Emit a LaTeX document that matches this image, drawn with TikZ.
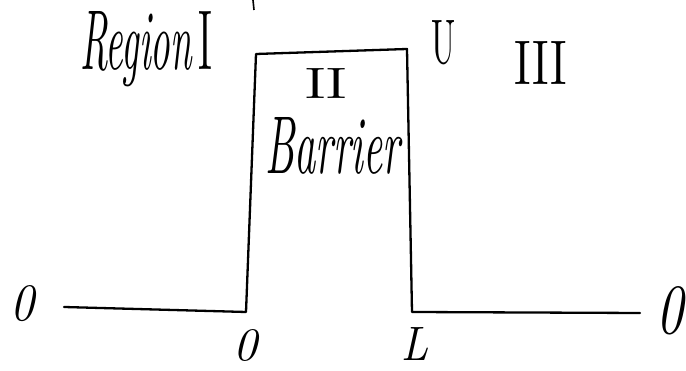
\documentclass[tikz,border=0pt]{standalone}
\usepackage{graphicx}
\begin{document}
\begin{tikzpicture}[x=1pt,y=1pt,
  wall/.style={line width=2.3pt,line join=round,line cap=round},
  lbl/.style={inner sep=0pt,outer sep=0pt}]
\useasboundingbox (0,0) rectangle (686,371);
% corner points of the potential profile
\coordinate (leftend)  at (64,64);
\coordinate (leftfoot) at (246,59);
\coordinate (topleft)  at (256,317);
\coordinate (topright) at (407,322);
\coordinate (rightfoot) at (412,59);
\coordinate (rightend) at (640,58);
\coordinate (tickA) at (253,371);
\coordinate (tickB) at (254,361);
% barrier outline
\draw[wall] (leftend) -- (leftfoot) -- (topleft) -- (topright) -- (rightfoot) -- (rightend);
\draw[line width=1.6pt] (tickA) -- (tickB);
% labels
\node[lbl,anchor=base west] (regI) at (80,301) {\resizebox{132pt}{58pt}{\itshape Region\,\upshape I}};
\node[lbl,anchor=base west] (barr) at (265,197) {\resizebox{135pt}{56pt}{\itshape Barrier}};
\node[lbl] (regII) at (326,287) {\resizebox{42pt}{30pt}{II}};
\node[lbl] (regIII) at (541,308) {\resizebox{52pt}{43pt}{III}};
\node[lbl] (pot) at (443,328) {\resizebox{24pt}{43pt}{U}};
\node[lbl] (zl) at (23,67) {\resizebox{24pt}{35pt}{\itshape 0}};
\node[lbl] (zr) at (670,60) {\resizebox{27pt}{47pt}{\itshape 0}};
\node[lbl] (xo) at (245,25) {\resizebox{24pt}{31pt}{\itshape 0}};
\node[lbl] (xl) at (415,27) {\resizebox{27pt}{33pt}{\itshape L}};
\end{tikzpicture}
\end{document}
